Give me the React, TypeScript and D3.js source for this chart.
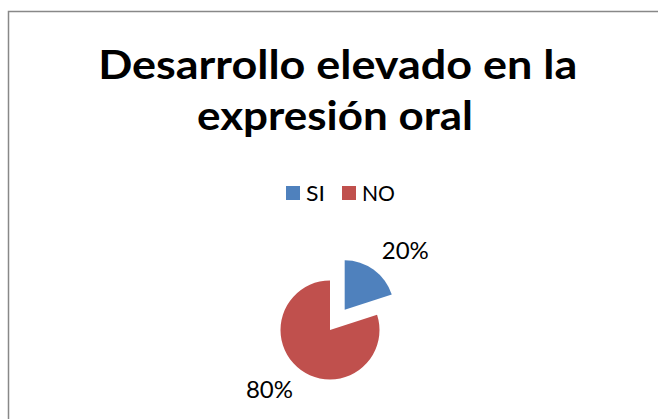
import React from "react";
import * as d3 from "d3";

const W = 658;
const H = 419;

const titleLines = ["Desarrollo elevado en la", "expresión oral"];
const categories = ["SI", "NO"];
const values = [20, 80];
const colors = ["#4F81BD", "#C0504D"];

const FONT = "Lato, 'Open Sans', sans-serif";

export default function App() {
  const cx = 330;
  const cy = 330;
  const r = 49.5;
  const explode = 25;
  const total = d3.sum(values);

  const pie = d3.pie<number>().sort(null).value((d) => d)(values);
  const arc = d3.arc<d3.PieArcDatum<number>>().innerRadius(0).outerRadius(r);

  const labelR = 63;
  const labelFs = 24;

  // legend layout
  const legendY = 186;
  const sq = 14;
  const legendX = d3.scalePoint<string>().domain(categories).range([286, 342]);

  return (
    <svg
      width={W}
      height={H}
      style={{ position: "absolute", left: 0, top: 0, background: "#fff" }}
      fontFamily={FONT}
    >
      <rect x={8.5} y={11.5} width={W + 20} height={H + 20} fill="#fff" stroke="#888" strokeWidth={1.5} />
      <text x={337.7} y={79} textAnchor="middle" fontSize={41} fontWeight="bold" fill="#000" textLength={479} lengthAdjust="spacingAndGlyphs">
        {titleLines[0]}
      </text>
      <text x={335} y={130} textAnchor="middle" fontSize={41} fontWeight="bold" fill="#000" textLength={276} lengthAdjust="spacingAndGlyphs">
        {titleLines[1]}
      </text>

      {categories.map((c, i) => (
        <g key={c} transform={`translate(${legendX(c)},${legendY})`}>
          <rect x={0} y={0} width={sq} height={sq} fill={colors[i]} />
          <text x={sq + 6} y={sq + 0.5} fontSize={22} fill="#000" textLength={i === 0 ? 19 : 33} lengthAdjust="spacingAndGlyphs">
            {c}
          </text>
        </g>
      ))}

      {pie.map((p, i) => {
        const mid = (p.startAngle + p.endAngle) / 2;
        const off = i === 0 ? explode : 0;
        const ox = cx + off * Math.sin(mid);
        const oy = cy - off * Math.cos(mid);
        const lx = ox + labelR * Math.sin(mid);
        const ly = oy - labelR * Math.cos(mid);
        const right = Math.sin(mid) >= 0;
        const top = Math.cos(mid) > 0;
        const pct = Math.round((values[i] / total) * 100) + "%";
        return (
          <g key={categories[i]}>
            <path d={arc(p) as string} transform={`translate(${ox},${oy})`} fill={colors[i]} />
            <text
              x={lx}
              y={top ? ly : ly + labelFs * 0.7}
              textAnchor={right ? "start" : "end"}
              fontSize={labelFs}
              fill="#000"
            >
              {pct}
            </text>
          </g>
        );
      })}
    </svg>
  );
}
